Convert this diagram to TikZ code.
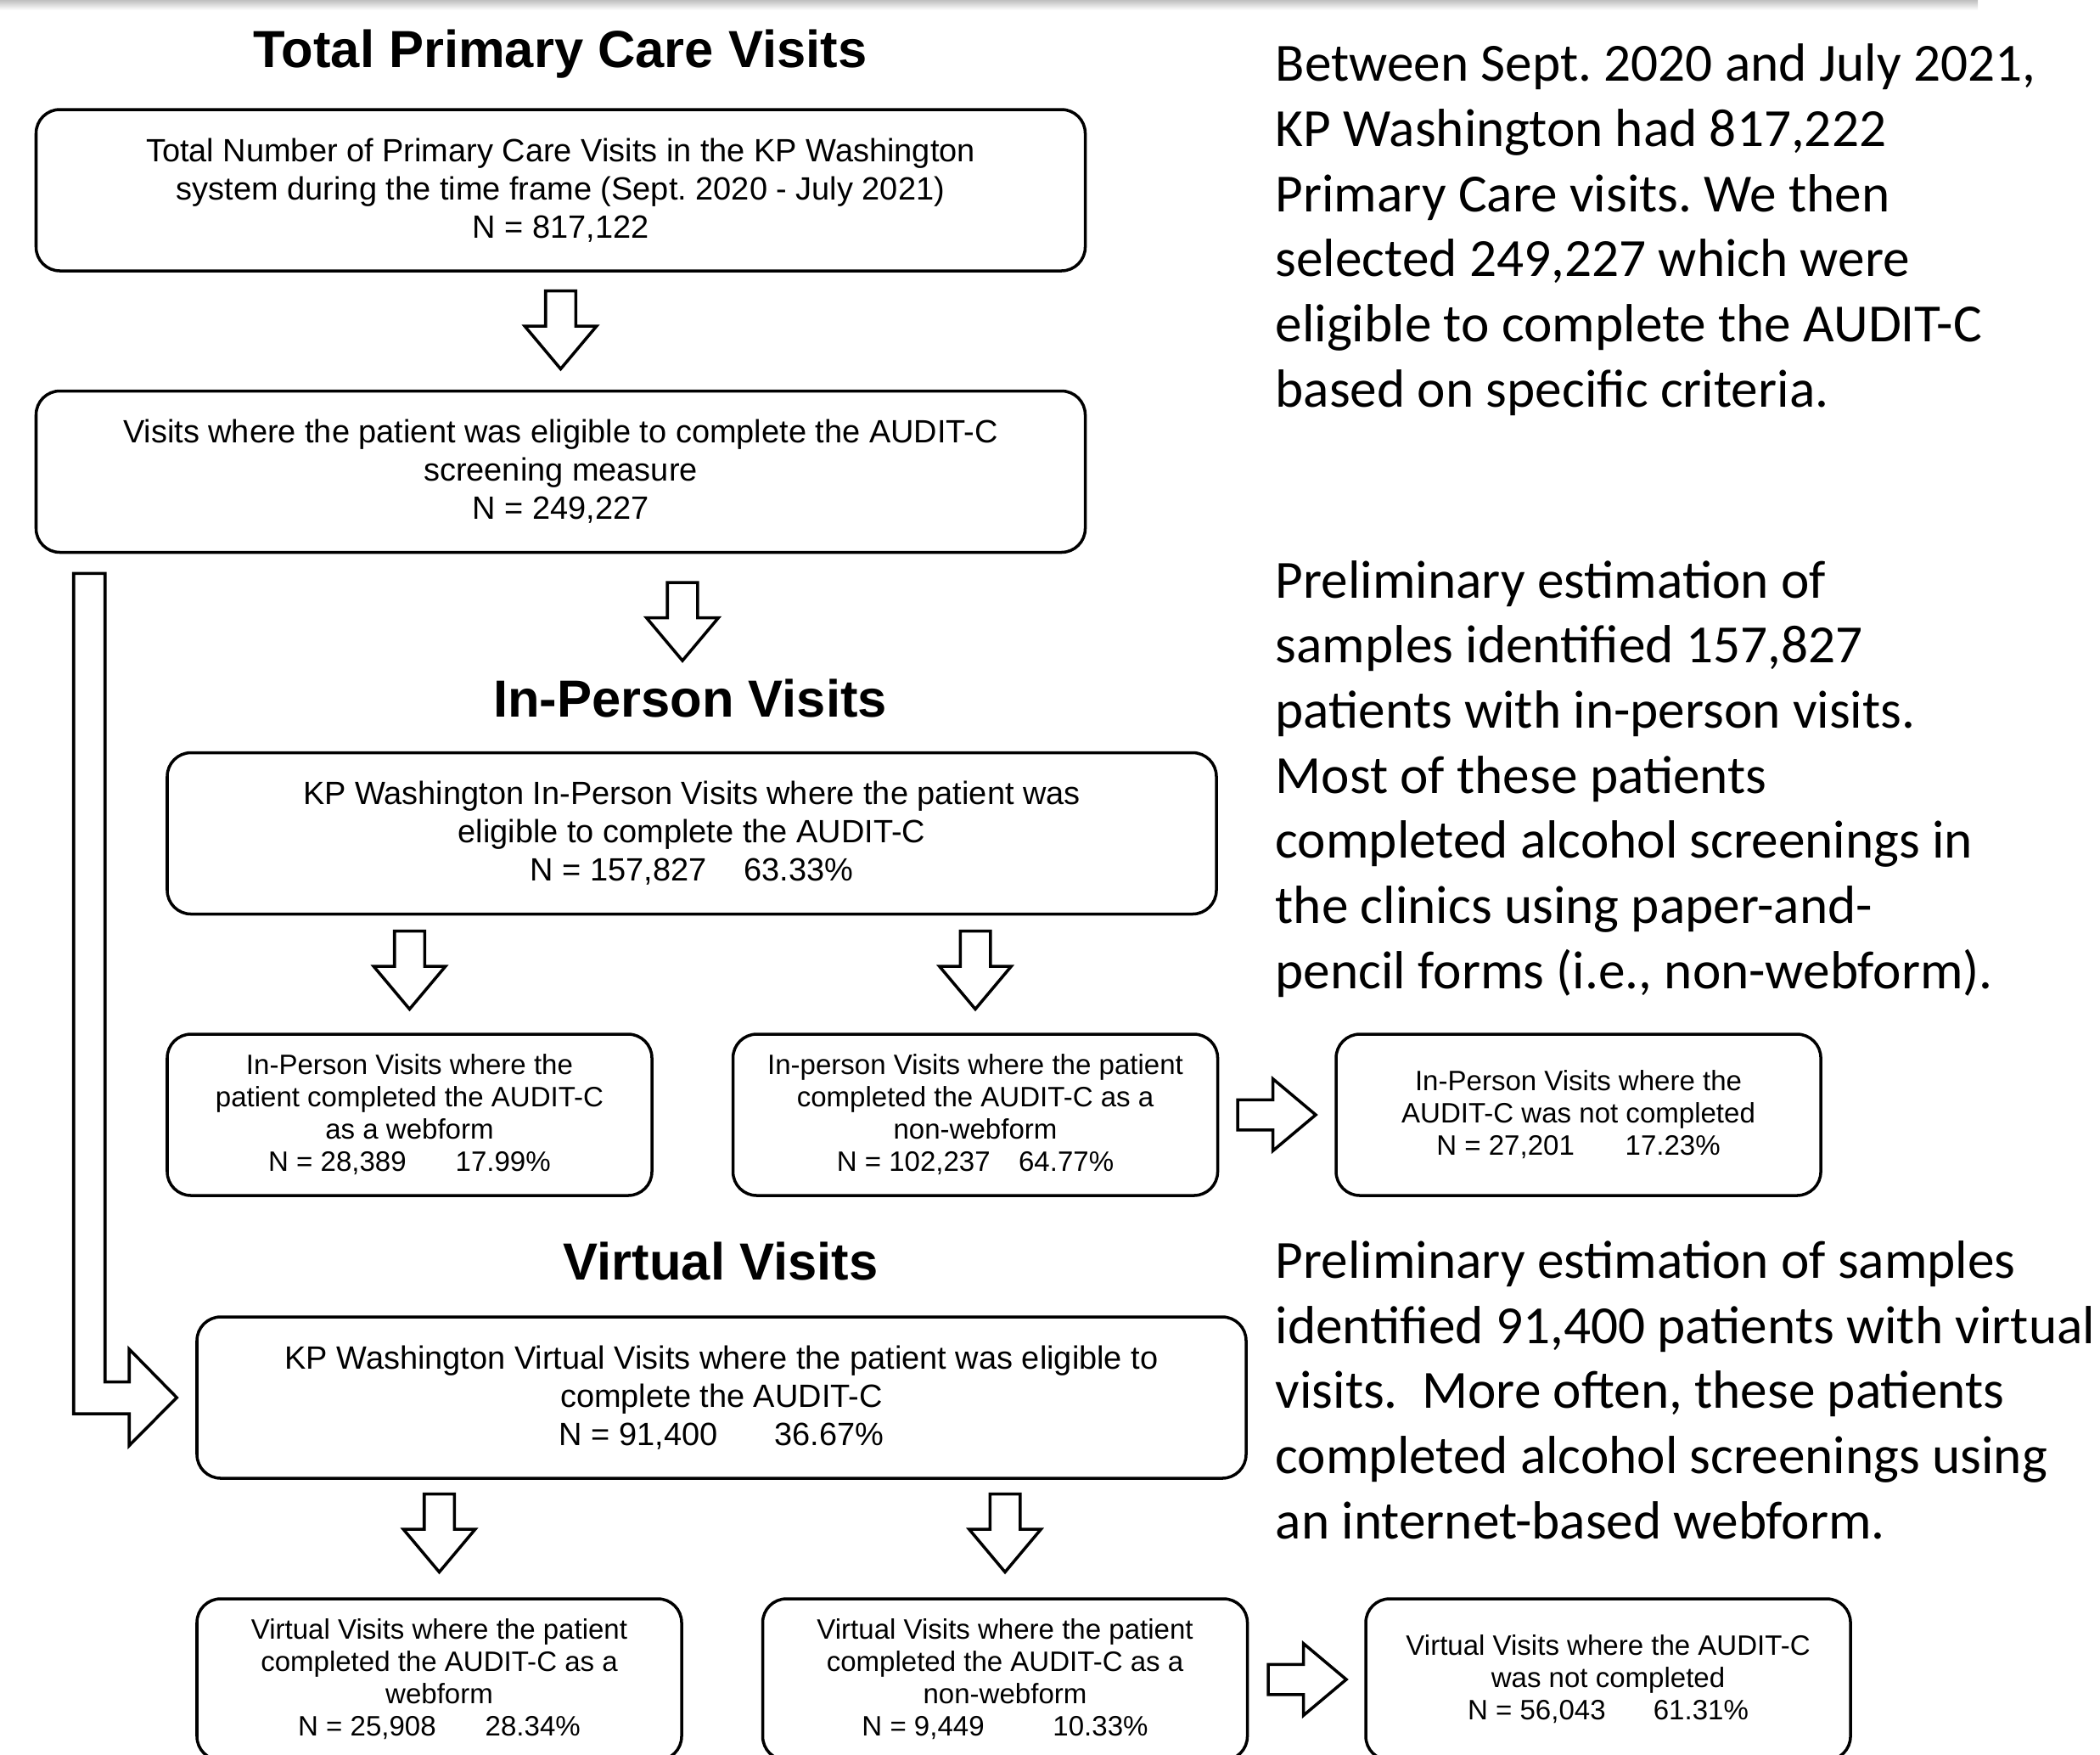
\documentclass[tikz,border=0pt]{standalone}
\usepackage{fontspec}
\setmainfont{Liberation Sans}
\newfontfamily\notefont{Carlito}
\usepackage{tikz}
\usetikzlibrary{shapes.arrows,positioning,calc}
\frenchspacing
\tikzstyle{heading} = [font=\fontsize{17.5}{21}\selectfont\bfseries]
\tikzstyle{bigbox} = [rectangle, rounded corners=0.28cm, draw, line width=1pt, minimum width=12.36cm, minimum height=1.9cm, align=center, font=\fontsize{10.8}{12.8}\selectfont]
\tikzstyle{smallbox} = [bigbox, minimum width=5.71cm, font=\fontsize{9.4}{10.8}\selectfont]
\tikzstyle{downblk} = [single arrow, draw, line width=1pt, shape border rotate=270, minimum height=0.92cm, inner sep=0.16cm, single arrow head extend=0.245cm, single arrow tip angle=80]
\tikzstyle{rightblk} = [downblk, shape border rotate=0]
\tikzstyle{blkline} = [line width=1pt, line join=miter]
\tikzstyle{note} = [anchor=base west, align=left, inner sep=0pt, font=\notefont\fontsize{18}{21.8}\selectfont]

\begin{document}
\begin{tikzpicture}
\useasboundingbox (0,0) rectangle (24.74,-20.66);
\shade[top color=black!25, bottom color=white] (0,0) rectangle (23.3,-0.12);

% total visits
\node[heading] (ttotal) at (6.60,-0.64) {Total Primary Care Visits};
\node[bigbox] (total) at (6.605,-2.24) {Total Number of Primary Care Visits in the KP Washington\\system during the time frame (Sept. 2020 - July 2021)\\N = 817,122};
\node[downblk, below=0.2cm of total] (a1) {};
\node[bigbox] (elig) at (6.605,-5.555) {Visits where the patient was eligible to complete the AUDIT-C\\screening measure\\N = 249,227};
\node[downblk] (a2) at (8.04,-7.215) {};

% in-person
\node[heading] (tinper) at (8.13,-8.22) {In-Person Visits};
\node[bigbox] (inper) at (8.15,-9.815) {KP Washington In-Person Visits where the patient was\\eligible to complete the AUDIT-C\\N = 157,827\hspace*{12.5pt}63.33\%};
\node[smallbox] (ipweb) at (4.825,-13.13) {In-Person Visits where the\\patient completed the AUDIT-C\\as a webform\\N = 28,389\hspace*{16.5pt}17.99\%};
\node[smallbox, right=0.92cm of ipweb] (ipnon) {In-person Visits where the patient\\completed the AUDIT-C as a\\non-webform\\N = 102,237\hspace*{9.5pt}64.77\%};
\node[smallbox, right=1.36cm of ipnon] (ipnot) {In-Person Visits where the\\AUDIT-C was not completed\\N = 27,201\hspace*{17pt}17.23\%};
\node[downblk, above=0.25cm of ipweb] (a3) {};
\node[downblk, above=0.25cm of ipnon] (a4) {};
\node[rightblk, right=0.2cm of ipnon] (r1) {};

% virtual
\node[heading] (tvirt) at (8.49,-14.85) {Virtual Visits};
\node[bigbox] (virt) at (8.50,-16.46) {KP Washington Virtual Visits where the patient was eligible to\\complete the AUDIT-C\\N = 91,400\hspace*{19pt}36.67\%};
\node[smallbox] (vweb) at (5.175,-19.78) {Virtual Visits where the patient\\completed the AUDIT-C as a\\webform\\N = 25,908\hspace*{16.5pt}28.34\%};
\node[smallbox, right=0.92cm of vweb] (vnon) {Virtual Visits where the patient\\completed the AUDIT-C as a\\non-webform\\N = 9,449\hspace*{23pt}10.33\%};
\node[smallbox, right=1.36cm of vnon] (vnot) {Virtual Visits where the AUDIT-C\\was not completed\\N = 56,043\hspace*{16pt}61.31\%};
\node[downblk, above=0.27cm of vweb] (a5) {};
\node[downblk, above=0.27cm of vnon] (a6) {};
\node[rightblk, right=0.21cm of vnon] (r2) {};

% eligible -> virtual
\coordinate (ltip) at ($(virt.west)+(-0.22,0)$);
\coordinate (ltop) at ($(elig.south west)+(0.46,-0.23)$);
\draw[blkline] (ltop) -- ++(0.37,0) |- ($(ltip)+(-0.56,0.185)$) -- ++(0,0.385) -- (ltip) -- ++(-0.56,-0.565) -- ++(0,0.375) -| (ltop) -- cycle;

% notes (anchored on their last line)
\node[note] (n1) at (15.02,-4.79) {Between Sept. 2020 and July 2021,\\KP Washington had 817,222\\Primary Care visits. We then\\selected 249,227 which were\\eligible to complete the AUDIT-C\\based on specific criteria.};
\node[note] (n2) at (15.02,-11.64) {Preliminary estimation of\\samples identified 157,827\\patients with in-person visits.\\Most of these patients\\completed alcohol screenings in\\the clinics using paper-and-\\pencil forms (i.e., non-webform).};
\node[note] (n3) at (15.02,-18.12) {Preliminary estimation of samples\\identified 91,400 patients with virtual\\visits.\ \ More often, these patients\\completed alcohol screenings using\\an internet-based webform.};
\end{tikzpicture}
\end{document}
